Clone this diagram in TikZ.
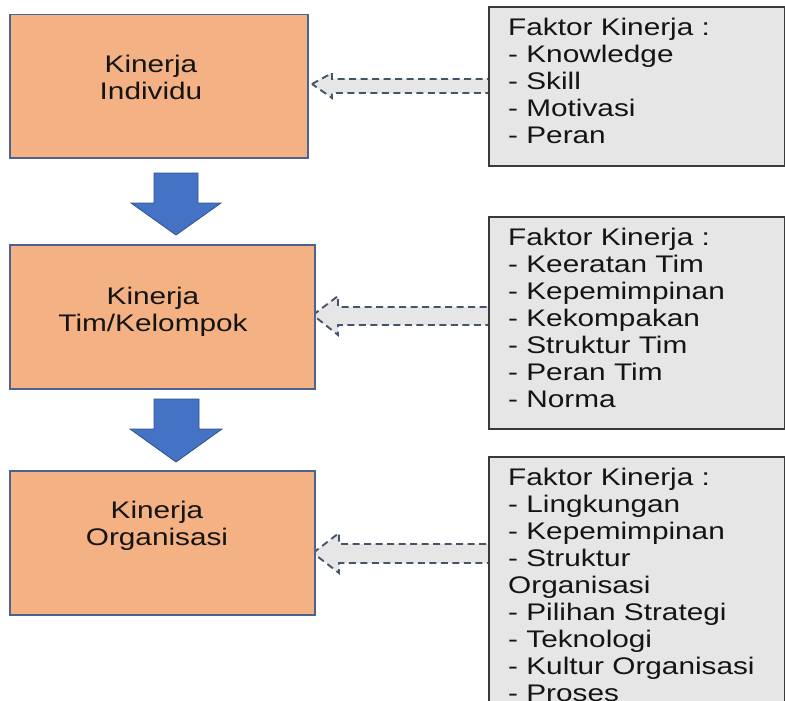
\documentclass[tikz,border=0pt]{standalone}
\usepackage{fontspec}
\setmainfont{Liberation Sans}[FakeStretch=1.24]
\definecolor{boxorange}{HTML}{F4B183}
\definecolor{boxedge}{HTML}{4C6391}
\definecolor{arrowblue}{HTML}{4472C4}
\definecolor{arrowedge}{HTML}{2F528F}
\definecolor{factgray}{HTML}{E7E6E6}
\definecolor{factedge}{HTML}{3A3A3A}
\definecolor{dashedge}{HTML}{44546A}
\definecolor{txt}{HTML}{141414}
\begin{document}
\begin{tikzpicture}[x=1pt,y=-1pt,
  lbox/.style={draw=boxedge, line width=1.5pt, fill=boxorange, rectangle, inner sep=0pt, anchor=north west},
  fbox/.style={draw=factedge, line width=2pt, fill=factgray, rectangle, inner sep=0pt, anchor=north west},
  ltext/.style={font=\fontsize{24}{27}\selectfont, text=txt, align=center, anchor=north, inner sep=0pt},
  ftext/.style={font=\fontsize{24}{27}\selectfont, text=txt, align=left, anchor=north west, inner sep=0pt},
  downarrow/.style={fill=arrowblue, draw=arrowedge, line width=0.8pt, line join=miter},
  dasharrow/.style={fill=factgray, draw=dashedge, line width=1.9pt, dash pattern=on 7pt off 4.5pt}]
\useasboundingbox (0,0) rectangle (785,701);
\clip (0,0) rectangle (785,701);

% dashed (gray) arrows pointing left
\coordinate (t1) at (312,84);
\coordinate (t2) at (313,315);
\coordinate (t3) at (313,553);
\draw[dasharrow] (t1) -- (332,73) -- (332,79) -- (500,79) -- (500,93) -- (332,93) -- (332,98) -- cycle;
\draw[dasharrow] (t2) -- (338,296) -- (338,307) -- (500,307) -- (500,325) -- (338,325) -- (338,335) -- cycle;
\draw[dasharrow] (t3) -- (339,533) -- (339,544) -- (500,544) -- (500,563) -- (339,563) -- (339,573) -- cycle;

% left boxes
\node[lbox, minimum width=298pt, minimum height=143pt] (k1) at (9,14) {};
\node[lbox, minimum width=305pt, minimum height=144pt] (k2) at (9,244) {};
\node[lbox, minimum width=305pt, minimum height=144pt] (k3) at (9,470) {};
\node[ltext] (k1t) at (151,55) {Kinerja\\Individu};
\node[ltext] (k2t) at (153,287) {Kinerja\\Tim/Kelompok};
\node[ltext] (k3t) at (157,501) {Kinerja\\Organisasi};

% down arrows
\draw[downarrow] (154,173) -- (198,173) -- (198,203) -- (221,203) -- (176,235) -- (131,203) -- (154,203) -- cycle;
\draw[downarrow] (154,399) -- (199,399) -- (199,429) -- (222,429) -- (176,462) -- (130,429) -- (154,429) -- cycle;

% factor boxes
\node[fbox, minimum width=296pt, minimum height=159pt] (f1) at (488,6) {};
\node[fbox, minimum width=296pt, minimum height=212pt] (f2) at (488,216) {};
\node[fbox, minimum width=296pt, minimum height=270pt] (f3) at (488,456) {};
\node[ftext] (f1t) at (508,18) {Faktor Kinerja :\\- Knowledge\\- Skill\\- Motivasi\\- Peran};
\node[ftext] (f2t) at (508,228) {Faktor Kinerja :\\- Keeratan Tim\\- Kepemimpinan\\- Kekompakan\\- Struktur Tim\\- Peran Tim\\- Norma};
\node[ftext] (f3t) at (508,468) {Faktor Kinerja :\\- Lingkungan\\- Kepemimpinan\\- Struktur\\Organisasi\\- Pilihan Strategi\\- Teknologi\\- Kultur Organisasi\\- Proses};
\end{tikzpicture}
\end{document}
